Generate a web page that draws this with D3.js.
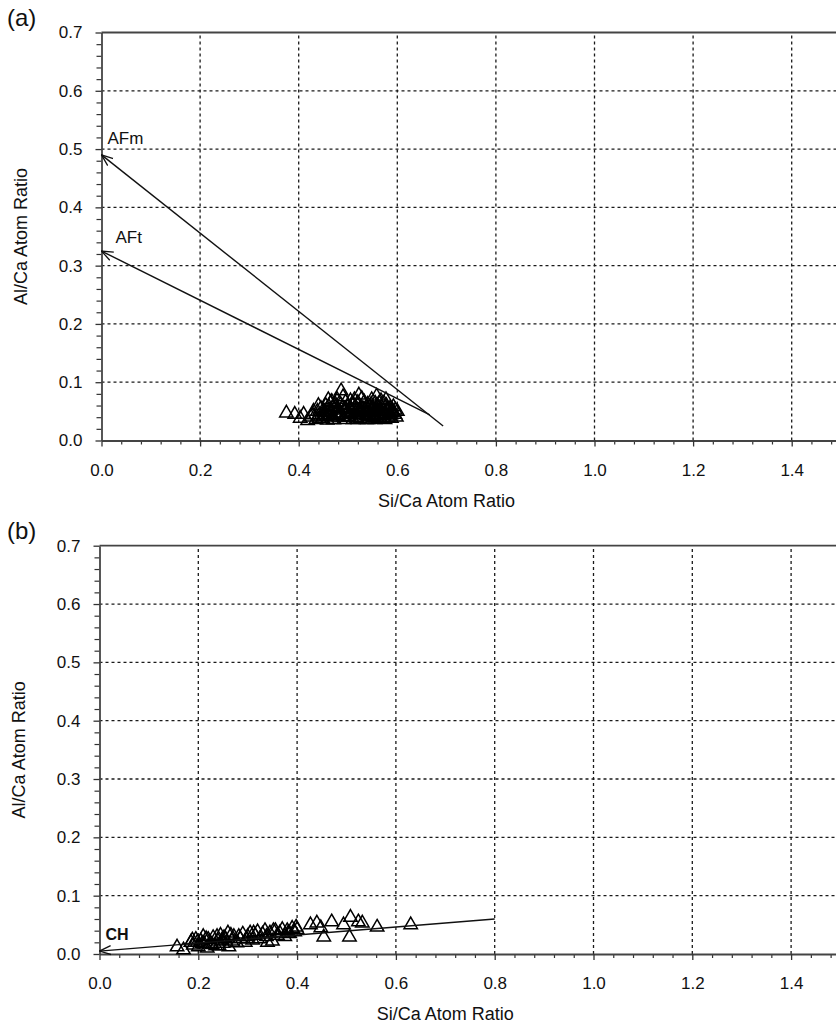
<!DOCTYPE html>
<html>
<head>
<meta charset="utf-8">
<script src="https://cdn.jsdelivr.net/npm/d3@7"></script>
<style>
  html, body { margin: 0; padding: 0; background: #fff; }
  svg { display: block; font-family: "Liberation Sans", Arial, Helvetica, sans-serif; }
</style>
</head>
<body>
<svg id="chart" width="836" height="1027"></svg>
<script>
// Axis tick values shared by both panels
const xTicks = [0.0, 0.2, 0.4, 0.6, 0.8, 1.0, 1.2, 1.4];
const yTicks = [0.0, 0.1, 0.2, 0.3, 0.4, 0.5, 0.6, 0.7];
const xGrid = [0.2, 0.4, 0.6, 0.8, 1.0, 1.2, 1.4];
const yGrid = [0.1, 0.2, 0.3, 0.4, 0.5, 0.6];

// Panel (a): Si/Ca and Al/Ca atom ratios
const siCaA = [
  0.375, 0.392, 0.403, 0.41, 0.418, 0.425, 0.43, 0.435, 0.44, 0.445,
  0.448, 0.452, 0.455, 0.458, 0.46, 0.462, 0.465, 0.468, 0.47, 0.472,
  0.475, 0.478, 0.48, 0.482, 0.485, 0.487, 0.49, 0.492, 0.494, 0.486,
  0.498, 0.5, 0.502, 0.505, 0.507, 0.51, 0.512, 0.515, 0.518, 0.52,
  0.522, 0.525, 0.528, 0.53, 0.532, 0.522, 0.537, 0.54, 0.542, 0.545,
  0.548, 0.55, 0.552, 0.555, 0.558, 0.56, 0.562, 0.565, 0.567, 0.57,
  0.572, 0.575, 0.578, 0.58, 0.583, 0.585, 0.588, 0.59, 0.595, 0.598,
  0.44, 0.46, 0.47, 0.5, 0.52, 0.54, 0.56, 0.575, 0.585, 0.45,
  0.475, 0.495, 0.515, 0.535, 0.555, 0.568, 0.505, 0.465, 0.545, 0.59,
  0.438, 0.456, 0.474, 0.483, 0.496, 0.509, 0.517, 0.527, 0.533, 0.543,
  0.551, 0.557, 0.563, 0.571, 0.579, 0.587, 0.592, 0.6, 0.442, 0.461,
  0.479, 0.489, 0.503, 0.513, 0.524, 0.538, 0.547, 0.553, 0.566, 0.577,
  0.582, 0.596, 0.428, 0.451, 0.467, 0.491, 0.511, 0.529, 0.549, 0.573
];
const alCaA = [
  0.047, 0.045, 0.038, 0.045, 0.034, 0.04, 0.05, 0.036, 0.042, 0.055,
  0.038, 0.048, 0.06, 0.035, 0.044, 0.052, 0.065, 0.04, 0.057, 0.036,
  0.047, 0.07, 0.052, 0.04, 0.062, 0.045, 0.075, 0.036, 0.055, 0.085,
  0.048, 0.06, 0.04, 0.068, 0.052, 0.036, 0.045, 0.058, 0.042, 0.065,
  0.05, 0.037, 0.072, 0.055, 0.044, 0.078, 0.036, 0.062, 0.048, 0.04,
  0.07, 0.055, 0.045, 0.036, 0.076, 0.06, 0.05, 0.04, 0.068, 0.055,
  0.045, 0.036, 0.06, 0.05, 0.042, 0.055, 0.038, 0.048, 0.045, 0.04,
  0.06, 0.07, 0.036, 0.04, 0.036, 0.036, 0.037, 0.046, 0.047, 0.042,
  0.058, 0.066, 0.048, 0.052, 0.064, 0.043, 0.056, 0.048, 0.058, 0.052,
  0.05, 0.041, 0.063, 0.044, 0.053, 0.061, 0.039, 0.049, 0.066, 0.057,
  0.041, 0.052, 0.064, 0.039, 0.054, 0.044, 0.058, 0.05, 0.038, 0.058,
  0.043, 0.057, 0.046, 0.07, 0.053, 0.043, 0.062, 0.039, 0.049, 0.07,
  0.039, 0.052, 0.044, 0.05, 0.067, 0.04, 0.062, 0.047, 0.05, 0.064
];

// Panel (b): Si/Ca and Al/Ca atom ratios
const siCaB = [
  0.157, 0.17, 0.185, 0.19, 0.195, 0.2, 0.205, 0.21, 0.212, 0.218,
  0.22, 0.225, 0.23, 0.235, 0.24, 0.245, 0.25, 0.255, 0.26, 0.262,
  0.268, 0.272, 0.278, 0.285, 0.29, 0.295, 0.3, 0.305, 0.31, 0.315,
  0.32, 0.325, 0.33, 0.335, 0.34, 0.345, 0.35, 0.352, 0.36, 0.365,
  0.37, 0.375, 0.38, 0.385, 0.39, 0.395, 0.4, 0.198, 0.228, 0.248,
  0.427, 0.44, 0.454, 0.47, 0.494, 0.508, 0.506, 0.524, 0.532, 0.562,
  0.63, 0.448, 0.208, 0.216, 0.238, 0.252, 0.266, 0.282, 0.298, 0.312,
  0.338, 0.356, 0.382, 0.398, 0.188, 0.242
];
const alCaB = [
  0.012, 0.007, 0.02, 0.015, 0.025, 0.012, 0.022, 0.03, 0.017, 0.01,
  0.025, 0.018, 0.028, 0.014, 0.022, 0.032, 0.018, 0.026, 0.036, 0.012,
  0.022, 0.03, 0.019, 0.026, 0.034, 0.02, 0.03, 0.036, 0.024, 0.032,
  0.038, 0.026, 0.034, 0.04, 0.02, 0.036, 0.022, 0.04, 0.032, 0.036,
  0.042, 0.03, 0.04, 0.035, 0.044, 0.038, 0.042, 0.02, 0.016, 0.024,
  0.05, 0.053, 0.029, 0.055, 0.05, 0.063, 0.029, 0.055, 0.053, 0.046,
  0.05, 0.045, 0.018, 0.026, 0.03, 0.028, 0.032, 0.03, 0.026, 0.036,
  0.03, 0.04, 0.036, 0.046, 0.024, 0.014
];

// Reference lines: [label, fromSi, fromAl, toSi, toAl]
const afmLine = ["AFm", 0.693, 0.025, 0.0, 0.49];
const aftLine = ["AFt", 0.666, 0.044, 0.0, 0.325];
const chLine = ["CH", 0.8, 0.06, 0.0, 0.005];

const svg = d3.select("#chart");
const FONT = "Liberation Sans, Arial, Helvetica, sans-serif";

const defs = svg.append("defs");
defs.append("marker")
  .attr("id", "openArrow")
  .attr("viewBox", "0 -6 12 12")
  .attr("refX", 11.5).attr("refY", 0)
  .attr("markerWidth", 12).attr("markerHeight", 12)
  .attr("markerUnits", "userSpaceOnUse")
  .attr("orient", "auto")
  .append("path")
  .attr("d", "M0,-4.5L11.5,0L0,4.5")
  .attr("fill", "none").attr("stroke", "#111").attr("stroke-width", 1.3);

function drawPanel(opt) {
  const x = d3.scaleLinear().domain([0, 1.5]).range([opt.left, opt.left + 1.5 * opt.unitX]);
  const y = d3.scaleLinear().domain([0, 0.7]).range([opt.bottom, opt.top]);
  const g = svg.append("g").attr("font-family", FONT);
  const xMax = x(1.5);

  // dashed grid
  g.append("g").selectAll("line.vg").data(xGrid).join("line")
    .attr("x1", d => x(d)).attr("x2", d => x(d))
    .attr("y1", y(0)).attr("y2", y(0.7))
    .attr("stroke", "#1a1a1a").attr("stroke-width", 1.3).attr("stroke-dasharray", "3,3");
  g.append("g").selectAll("line.hg").data(yGrid).join("line")
    .attr("x1", x(0)).attr("x2", xMax)
    .attr("y1", d => y(d)).attr("y2", d => y(d))
    .attr("stroke", "#1a1a1a").attr("stroke-width", 1.3).attr("stroke-dasharray", "3,3");

  // top border
  g.append("line")
    .attr("x1", x(0)).attr("x2", xMax)
    .attr("y1", y(0.7)).attr("y2", y(0.7))
    .attr("stroke", "#444").attr("stroke-width", 1.8);

  // minor ticks every 0.04 on x, 0.02 on y
  const xMinor = d3.range(0, 38).map(i => i * 0.04).filter((d, i) => i % 5 !== 0);
  const yMinor = d3.range(0, 36).map(i => i * 0.02).filter((d, i) => i % 5 !== 0);
  g.append("g")
    .attr("transform", `translate(0,${y(0)})`)
    .call(d3.axisBottom(x).tickValues(xMinor).tickSize(4).tickFormat(""))
    .call(a => a.select(".domain").remove())
    .call(a => a.selectAll("line").attr("stroke", "#333").attr("stroke-width", 1.2));
  g.append("g")
    .attr("transform", `translate(${x(0)},0)`)
    .call(d3.axisLeft(y).tickValues(yMinor).tickSize(5).tickFormat(""))
    .call(a => a.select(".domain").remove())
    .call(a => a.selectAll("line").attr("stroke", "#333").attr("stroke-width", 1.2));

  // major axes
  const xAxis = g.append("g")
    .attr("transform", `translate(0,${y(0)})`)
    .call(d3.axisBottom(x).tickValues(xTicks).tickSize(6).tickSizeOuter(0).tickPadding(17)
      .tickFormat(d3.format(".1f")));
  xAxis.select(".domain").attr("stroke", "#444").attr("stroke-width", 1.8);
  xAxis.selectAll("line").attr("stroke", "#333").attr("stroke-width", 1.3);
  xAxis.selectAll("text").attr("font-size", 17).attr("font-family", FONT).attr("fill", "#111");

  const yAxis = g.append("g")
    .attr("transform", `translate(${x(0)},0)`)
    .call(d3.axisLeft(y).tickValues(yTicks).tickSize(6).tickSizeOuter(0).tickPadding(13)
      .tickFormat(d3.format(".1f")));
  yAxis.select(".domain").attr("stroke", "#444").attr("stroke-width", 1.8);
  yAxis.selectAll("line").attr("stroke", "#333").attr("stroke-width", 1.3);
  yAxis.selectAll("text").attr("font-size", 17).attr("font-family", FONT).attr("fill", "#111");

  // axis titles
  g.append("text")
    .attr("x", (x(0) + x(1.4)) / 2).attr("y", y(0) + 66)
    .attr("text-anchor", "middle").attr("font-size", 18).attr("fill", "#111")
    .text("Si/Ca Atom Ratio");
  g.append("text")
    .attr("transform", `translate(${opt.left - 75},${(y(0) + y(0.7)) / 2}) rotate(-90)`)
    .attr("text-anchor", "middle").attr("font-size", 18).attr("fill", "#111")
    .text("Al/Ca Atom Ratio");

  // panel letter
  g.append("text")
    .attr("x", 7).attr("y", opt.top - 7)
    .attr("font-size", 24).attr("fill", "#111")
    .text(opt.letter);

  // data triangles
  const tri = d3.symbol().type(d3.symbolTriangle).size(78);
  g.append("g").selectAll("path").data(opt.xs.map((v, i) => [v, opt.ys[i]])).join("path")
    .attr("d", tri)
    .attr("transform", d => `translate(${x(d[0])},${y(d[1])})`)
    .attr("fill", "none").attr("stroke", "#000").attr("stroke-width", 1.5);

  // reference arrows with labels
  opt.lines.forEach(l => {
    g.append("line")
      .attr("x1", x(l[1])).attr("y1", y(l[2]))
      .attr("x2", x(l[3])).attr("y2", y(l[4]))
      .attr("stroke", "#111").attr("stroke-width", 1.4)
      .attr("marker-end", "url(#openArrow)");
    const lab = opt.labelPos[l[0]];
    g.append("text")
      .attr("x", x(0) + lab[0]).attr("y", y(l[4]) + lab[1])
      .attr("font-size", lab[2]).attr("font-weight", lab[3]).attr("fill", "#111")
      .text(l[0]);
  });
}

drawPanel({
  letter: "(a)", left: 101.5, unitX: 493, top: 32.5, bottom: 440.5,
  xs: siCaA, ys: alCaA, lines: [afmLine, aftLine],
  labelPos: { AFm: [6, -11, 17, "normal"], AFt: [14, -8, 17, "normal"] }
});
drawPanel({
  letter: "(b)", left: 99.5, unitX: 494, top: 545.7, bottom: 954,
  xs: siCaB, ys: alCaB, lines: [chLine],
  labelPos: { CH: [6, -11, 16, "bold"] }
});
</script>
</body>
</html>
